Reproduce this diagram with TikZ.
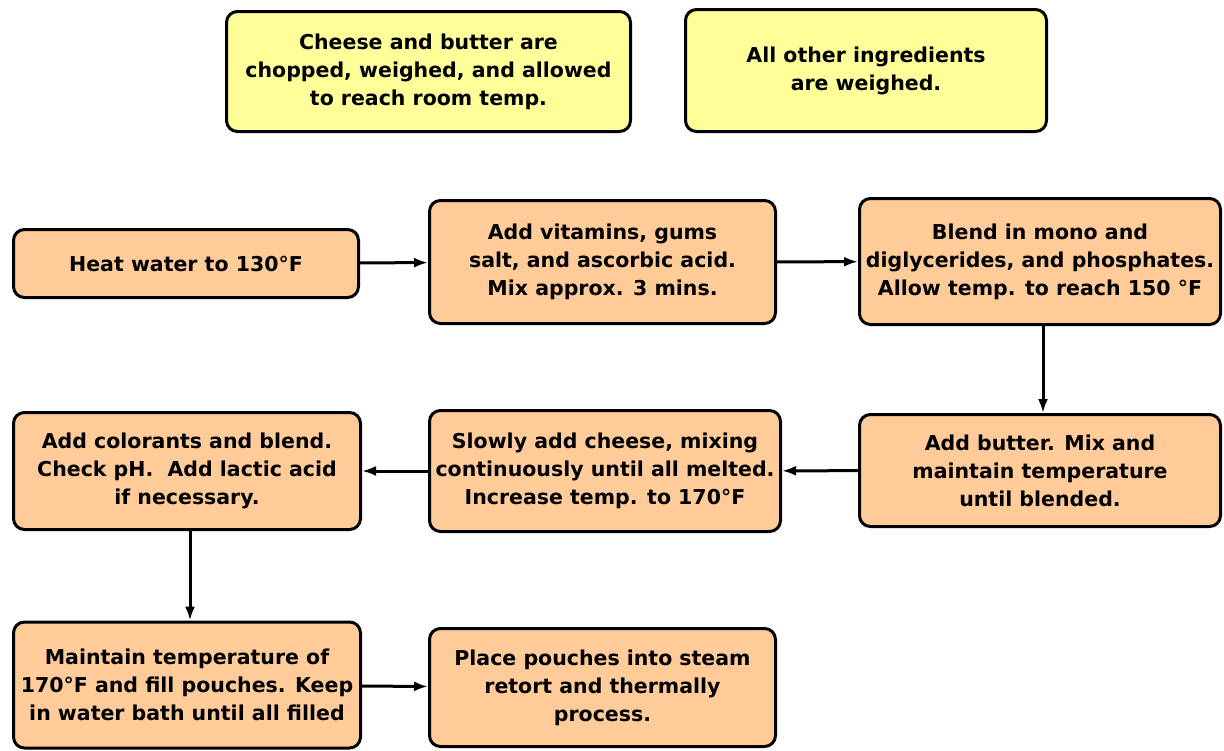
\documentclass[tikz,border=0pt]{standalone}
\usepackage{fontspec}
\setmainfont{DejaVu Sans}
\usetikzlibrary{positioning,arrows.meta}
\definecolor{prepyellow}{RGB}{255,255,153}
\definecolor{steporange}{RGB}{255,204,153}
\begin{document}
\begin{tikzpicture}[
x=1pt,y=-1pt,
box/.style={
  draw,
  rounded corners=11pt,
  line width=3pt,
  align=center,
  inner sep=2pt,
  font=\fontsize{20.5}{28}\selectfont\bfseries
},
prep/.style={
  box,
  fill=prepyellow
},
stepbox/.style={
  box,
  fill=steporange
},
flow/.style={
  -{Latex[length=14pt,width=10pt]},
  line width=3pt
}
]
\useasboundingbox (0,0) rectangle (1224,750);

\node[prep,minimum width=404pt,minimum height=120pt] at (428.5,71.5)
  (cheese) {Cheese and butter are\\chopped, weighed, and allowed\\to reach room temp.};
\node[prep,minimum width=361pt,minimum height=122pt] at (866,70.5)
  (others) {All other ingredients\\are weighed.};

\node[stepbox,minimum width=345pt,minimum height=68pt] at (186,263.5)
  (heat) {Heat water to 130°F};
\node[stepbox,minimum width=346pt,minimum height=123pt] at (602.5,262)
  (vitamins) {Add vitamins, gums\\salt, and ascorbic acid.\\Mix approx. 3 mins.};
\node[stepbox,minimum width=361pt,minimum height=126pt] at (1040,261.5)
  (blend) {Blend in mono and\\diglycerides, and phosphates.\\Allow temp. to reach 150 °F};
\node[stepbox,minimum width=361pt,minimum height=112pt] at (1040,470.5)
  (butter) {Add butter. Mix and\\maintain temperature\\until blended.};
\node[stepbox,minimum width=351pt,minimum height=121pt] at (605,471)
  (cheeseadd) {Slowly add cheese, mixing\\continuously until all melted.\\Increase temp. to 170°F};
\node[stepbox,minimum width=347pt,minimum height=117pt] at (187,471)
  (colorants) {Add colorants and blend.\\Check pH.\ \ Add lactic acid\\if necessary.};
\node[stepbox,minimum width=347pt,minimum height=126pt] at (187,685)
  (fill) {Maintain temperature of\\170°F and fill pouches. Keep\\in water bath until all filled};
\node[stepbox,minimum width=346pt,minimum height=118pt] at (602.5,687.5)
  (retort) {Place pouches into steam\\retort and thermally\\process.};

\draw[flow] (heat) -- (vitamins);
\draw[flow] (vitamins) -- (blend);
\draw[flow] (blend.south-|1043,0) -- (butter.north-|1043,0);
\draw[flow] (butter) -- (cheeseadd);
\draw[flow] (cheeseadd) -- (colorants);
\draw[flow] (colorants.south-|190,0) -- (fill.north-|190,0);
\draw[flow] (fill) -- (retort);
\end{tikzpicture}
\end{document}
